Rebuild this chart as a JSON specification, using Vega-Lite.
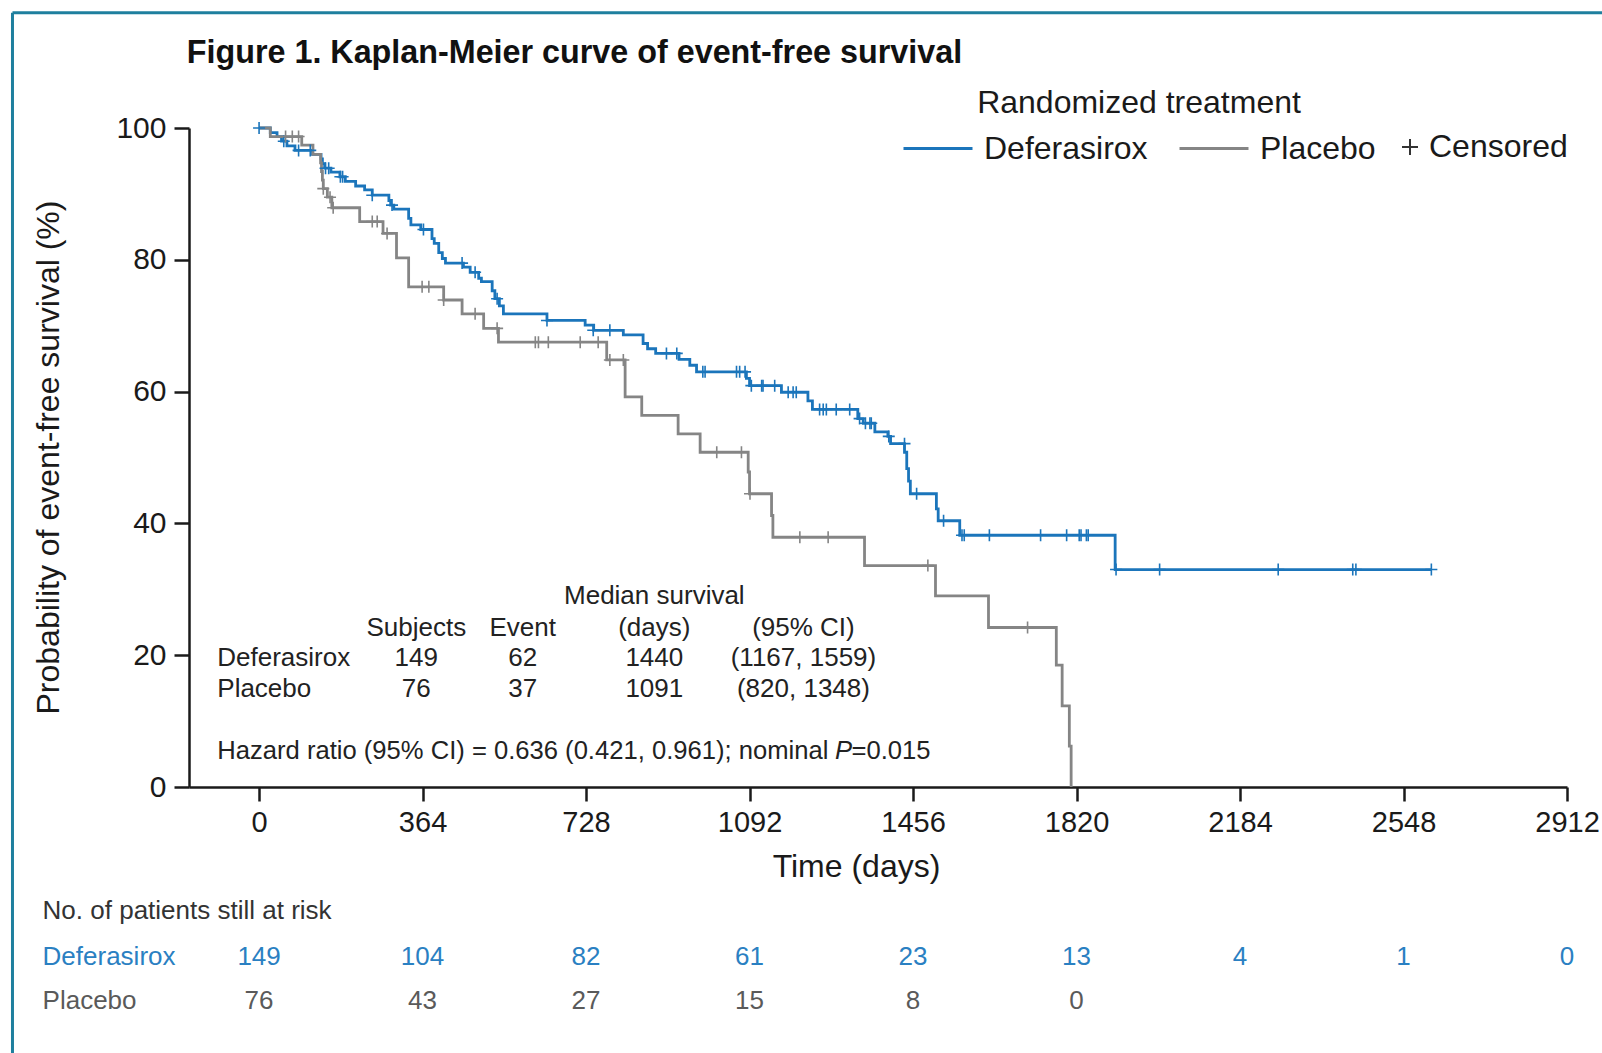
{
  "$schema": "https://vega.github.io/schema/vega-lite/v6.json",
  "width": 1378,
  "height": 659,
  "autosize": {"type": "none"},
  "padding": {"left": 189, "top": 128, "right": 35, "bottom": 266},
  "background": "white",
  "config": {
    "font": "Liberation Sans",
    "view": {"stroke": null},
    "text": {"font": "Liberation Sans"}
  },
  "datasets": {
    "km": [
      {"arm": "Deferasirox", "day": 0, "surv": 100},
      {"arm": "Deferasirox", "day": 25, "surv": 99.3},
      {"arm": "Deferasirox", "day": 40, "surv": 98.7},
      {"arm": "Deferasirox", "day": 50, "surv": 98.0},
      {"arm": "Deferasirox", "day": 62, "surv": 97.3},
      {"arm": "Deferasirox", "day": 80, "surv": 96.6},
      {"arm": "Deferasirox", "day": 119, "surv": 96.0},
      {"arm": "Deferasirox", "day": 138, "surv": 95.3},
      {"arm": "Deferasirox", "day": 141, "surv": 94.6},
      {"arm": "Deferasirox", "day": 146, "surv": 93.9},
      {"arm": "Deferasirox", "day": 160, "surv": 93.3},
      {"arm": "Deferasirox", "day": 180, "surv": 92.6},
      {"arm": "Deferasirox", "day": 192, "surv": 91.9},
      {"arm": "Deferasirox", "day": 215, "surv": 91.2},
      {"arm": "Deferasirox", "day": 235, "surv": 90.6},
      {"arm": "Deferasirox", "day": 252, "surv": 89.8},
      {"arm": "Deferasirox", "day": 289, "surv": 89.0},
      {"arm": "Deferasirox", "day": 293, "surv": 88.3},
      {"arm": "Deferasirox", "day": 300, "surv": 87.7},
      {"arm": "Deferasirox", "day": 333, "surv": 86.3},
      {"arm": "Deferasirox", "day": 338, "surv": 85.3},
      {"arm": "Deferasirox", "day": 360, "surv": 84.6},
      {"arm": "Deferasirox", "day": 385, "surv": 83.2},
      {"arm": "Deferasirox", "day": 390, "surv": 82.5},
      {"arm": "Deferasirox", "day": 400, "surv": 81.1},
      {"arm": "Deferasirox", "day": 408, "surv": 80.2},
      {"arm": "Deferasirox", "day": 415, "surv": 79.5},
      {"arm": "Deferasirox", "day": 455, "surv": 78.9},
      {"arm": "Deferasirox", "day": 470, "surv": 78.1},
      {"arm": "Deferasirox", "day": 489, "surv": 77.2},
      {"arm": "Deferasirox", "day": 495, "surv": 76.7},
      {"arm": "Deferasirox", "day": 519, "surv": 75.3},
      {"arm": "Deferasirox", "day": 525, "surv": 74.1},
      {"arm": "Deferasirox", "day": 535, "surv": 73.0},
      {"arm": "Deferasirox", "day": 544, "surv": 71.8},
      {"arm": "Deferasirox", "day": 641, "surv": 70.8},
      {"arm": "Deferasirox", "day": 726, "surv": 70.1},
      {"arm": "Deferasirox", "day": 745, "surv": 69.3},
      {"arm": "Deferasirox", "day": 811, "surv": 68.6},
      {"arm": "Deferasirox", "day": 855, "surv": 67.3},
      {"arm": "Deferasirox", "day": 865, "surv": 66.5},
      {"arm": "Deferasirox", "day": 883, "surv": 65.8},
      {"arm": "Deferasirox", "day": 935, "surv": 64.9},
      {"arm": "Deferasirox", "day": 959, "surv": 64.0},
      {"arm": "Deferasirox", "day": 974, "surv": 63.0},
      {"arm": "Deferasirox", "day": 1085, "surv": 62.0},
      {"arm": "Deferasirox", "day": 1092, "surv": 60.9},
      {"arm": "Deferasirox", "day": 1163, "surv": 59.9},
      {"arm": "Deferasirox", "day": 1222, "surv": 58.6},
      {"arm": "Deferasirox", "day": 1232, "surv": 57.3},
      {"arm": "Deferasirox", "day": 1333, "surv": 55.9},
      {"arm": "Deferasirox", "day": 1345, "surv": 55.2},
      {"arm": "Deferasirox", "day": 1371, "surv": 53.9},
      {"arm": "Deferasirox", "day": 1400, "surv": 53.2},
      {"arm": "Deferasirox", "day": 1406, "surv": 52.1},
      {"arm": "Deferasirox", "day": 1437, "surv": 50.8},
      {"arm": "Deferasirox", "day": 1442, "surv": 48.3},
      {"arm": "Deferasirox", "day": 1446, "surv": 46.4},
      {"arm": "Deferasirox", "day": 1450, "surv": 44.5},
      {"arm": "Deferasirox", "day": 1508, "surv": 42.2},
      {"arm": "Deferasirox", "day": 1512, "surv": 40.4},
      {"arm": "Deferasirox", "day": 1560, "surv": 38.2},
      {"arm": "Deferasirox", "day": 1906, "surv": 33.0},
      {"arm": "Deferasirox", "day": 2610, "surv": 33.0},
      {"arm": "Placebo", "day": 0, "surv": 100},
      {"arm": "Placebo", "day": 25, "surv": 98.7},
      {"arm": "Placebo", "day": 95, "surv": 97.4},
      {"arm": "Placebo", "day": 120, "surv": 96.0},
      {"arm": "Placebo", "day": 137, "surv": 94.7},
      {"arm": "Placebo", "day": 139, "surv": 93.4},
      {"arm": "Placebo", "day": 141, "surv": 92.1},
      {"arm": "Placebo", "day": 143, "surv": 90.8},
      {"arm": "Placebo", "day": 152, "surv": 89.5},
      {"arm": "Placebo", "day": 162, "surv": 87.9},
      {"arm": "Placebo", "day": 224, "surv": 85.8},
      {"arm": "Placebo", "day": 276, "surv": 84.0},
      {"arm": "Placebo", "day": 306, "surv": 80.3},
      {"arm": "Placebo", "day": 333, "surv": 75.9},
      {"arm": "Placebo", "day": 411, "surv": 73.9},
      {"arm": "Placebo", "day": 452, "surv": 71.8},
      {"arm": "Placebo", "day": 500, "surv": 69.6},
      {"arm": "Placebo", "day": 533, "surv": 67.5},
      {"arm": "Placebo", "day": 774, "surv": 64.8},
      {"arm": "Placebo", "day": 815, "surv": 59.2},
      {"arm": "Placebo", "day": 852, "surv": 56.4},
      {"arm": "Placebo", "day": 933, "surv": 53.6},
      {"arm": "Placebo", "day": 982, "surv": 50.8},
      {"arm": "Placebo", "day": 1089, "surv": 47.8},
      {"arm": "Placebo", "day": 1092, "surv": 44.5},
      {"arm": "Placebo", "day": 1141, "surv": 41.2},
      {"arm": "Placebo", "day": 1144, "surv": 37.9},
      {"arm": "Placebo", "day": 1348, "surv": 33.6},
      {"arm": "Placebo", "day": 1506, "surv": 29.0},
      {"arm": "Placebo", "day": 1624, "surv": 24.2},
      {"arm": "Placebo", "day": 1775, "surv": 18.5},
      {"arm": "Placebo", "day": 1788, "surv": 12.3},
      {"arm": "Placebo", "day": 1804, "surv": 6.2},
      {"arm": "Placebo", "day": 1808, "surv": 0}
    ],
    "censor": [
      {"arm": "Deferasirox", "day": 0, "surv": 100},
      {"arm": "Deferasirox", "day": 55, "surv": 98.0},
      {"arm": "Deferasirox", "day": 88, "surv": 96.6},
      {"arm": "Deferasirox", "day": 114, "surv": 96.6},
      {"arm": "Deferasirox", "day": 148, "surv": 93.9},
      {"arm": "Deferasirox", "day": 155, "surv": 93.9},
      {"arm": "Deferasirox", "day": 181, "surv": 92.6},
      {"arm": "Deferasirox", "day": 186, "surv": 92.6},
      {"arm": "Deferasirox", "day": 252, "surv": 89.8},
      {"arm": "Deferasirox", "day": 296, "surv": 88.3},
      {"arm": "Deferasirox", "day": 366, "surv": 84.6},
      {"arm": "Deferasirox", "day": 452, "surv": 79.5},
      {"arm": "Deferasirox", "day": 481, "surv": 78.1},
      {"arm": "Deferasirox", "day": 530, "surv": 74.1},
      {"arm": "Deferasirox", "day": 641, "surv": 70.8},
      {"arm": "Deferasirox", "day": 744, "surv": 69.3},
      {"arm": "Deferasirox", "day": 781, "surv": 69.3},
      {"arm": "Deferasirox", "day": 907, "surv": 65.8},
      {"arm": "Deferasirox", "day": 930, "surv": 65.8},
      {"arm": "Deferasirox", "day": 988, "surv": 63.0},
      {"arm": "Deferasirox", "day": 993, "surv": 63.0},
      {"arm": "Deferasirox", "day": 1063, "surv": 63.0},
      {"arm": "Deferasirox", "day": 1070, "surv": 63.0},
      {"arm": "Deferasirox", "day": 1082, "surv": 63.0},
      {"arm": "Deferasirox", "day": 1096, "surv": 60.9},
      {"arm": "Deferasirox", "day": 1119, "surv": 60.9},
      {"arm": "Deferasirox", "day": 1122, "surv": 60.9},
      {"arm": "Deferasirox", "day": 1148, "surv": 60.9},
      {"arm": "Deferasirox", "day": 1178, "surv": 59.9},
      {"arm": "Deferasirox", "day": 1189, "surv": 59.9},
      {"arm": "Deferasirox", "day": 1196, "surv": 59.9},
      {"arm": "Deferasirox", "day": 1248, "surv": 57.3},
      {"arm": "Deferasirox", "day": 1256, "surv": 57.3},
      {"arm": "Deferasirox", "day": 1263, "surv": 57.3},
      {"arm": "Deferasirox", "day": 1285, "surv": 57.3},
      {"arm": "Deferasirox", "day": 1315, "surv": 57.3},
      {"arm": "Deferasirox", "day": 1337, "surv": 55.9},
      {"arm": "Deferasirox", "day": 1350, "surv": 55.2},
      {"arm": "Deferasirox", "day": 1360, "surv": 55.2},
      {"arm": "Deferasirox", "day": 1363, "surv": 55.2},
      {"arm": "Deferasirox", "day": 1402, "surv": 53.2},
      {"arm": "Deferasirox", "day": 1437, "surv": 52.1},
      {"arm": "Deferasirox", "day": 1464, "surv": 44.5},
      {"arm": "Deferasirox", "day": 1524, "surv": 40.4},
      {"arm": "Deferasirox", "day": 1565, "surv": 38.2},
      {"arm": "Deferasirox", "day": 1570, "surv": 38.2},
      {"arm": "Deferasirox", "day": 1626, "surv": 38.2},
      {"arm": "Deferasirox", "day": 1740, "surv": 38.2},
      {"arm": "Deferasirox", "day": 1798, "surv": 38.2},
      {"arm": "Deferasirox", "day": 1826, "surv": 38.2},
      {"arm": "Deferasirox", "day": 1830, "surv": 38.2},
      {"arm": "Deferasirox", "day": 1842, "surv": 38.2},
      {"arm": "Deferasirox", "day": 1846, "surv": 38.2},
      {"arm": "Deferasirox", "day": 1908, "surv": 33.0},
      {"arm": "Deferasirox", "day": 2005, "surv": 33.0},
      {"arm": "Deferasirox", "day": 2269, "surv": 33.0},
      {"arm": "Deferasirox", "day": 2435, "surv": 33.0},
      {"arm": "Deferasirox", "day": 2442, "surv": 33.0},
      {"arm": "Deferasirox", "day": 2610, "surv": 33.0},
      {"arm": "Placebo", "day": 59, "surv": 98.7},
      {"arm": "Placebo", "day": 74, "surv": 98.7},
      {"arm": "Placebo", "day": 88, "surv": 98.7},
      {"arm": "Placebo", "day": 143, "surv": 90.8},
      {"arm": "Placebo", "day": 158, "surv": 89.5},
      {"arm": "Placebo", "day": 165, "surv": 87.9},
      {"arm": "Placebo", "day": 252, "surv": 85.8},
      {"arm": "Placebo", "day": 263, "surv": 85.8},
      {"arm": "Placebo", "day": 285, "surv": 84.0},
      {"arm": "Placebo", "day": 363, "surv": 75.9},
      {"arm": "Placebo", "day": 378, "surv": 75.9},
      {"arm": "Placebo", "day": 411, "surv": 73.9},
      {"arm": "Placebo", "day": 481, "surv": 71.8},
      {"arm": "Placebo", "day": 530, "surv": 69.6},
      {"arm": "Placebo", "day": 615, "surv": 67.5},
      {"arm": "Placebo", "day": 622, "surv": 67.5},
      {"arm": "Placebo", "day": 644, "surv": 67.5},
      {"arm": "Placebo", "day": 715, "surv": 67.5},
      {"arm": "Placebo", "day": 755, "surv": 67.5},
      {"arm": "Placebo", "day": 781, "surv": 64.8},
      {"arm": "Placebo", "day": 811, "surv": 64.8},
      {"arm": "Placebo", "day": 1019, "surv": 50.8},
      {"arm": "Placebo", "day": 1074, "surv": 50.8},
      {"arm": "Placebo", "day": 1093, "surv": 44.5},
      {"arm": "Placebo", "day": 1204, "surv": 37.9},
      {"arm": "Placebo", "day": 1267, "surv": 37.9},
      {"arm": "Placebo", "day": 1489, "surv": 33.6},
      {"arm": "Placebo", "day": 1711, "surv": 24.2}
    ],
    "summary": [
      {"arm": "Deferasirox", "subjects": 149, "events": 62, "median": 1440, "ci": "(1167, 1559)"},
      {"arm": "Placebo", "subjects": 76, "events": 37, "median": 1091, "ci": "(820, 1348)"}
    ],
    "risk": [
      {"arm": "Deferasirox", "day": 0, "n": 149},
      {"arm": "Deferasirox", "day": 364, "n": 104},
      {"arm": "Deferasirox", "day": 728, "n": 82},
      {"arm": "Deferasirox", "day": 1092, "n": 61},
      {"arm": "Deferasirox", "day": 1456, "n": 23},
      {"arm": "Deferasirox", "day": 1820, "n": 13},
      {"arm": "Deferasirox", "day": 2184, "n": 4},
      {"arm": "Deferasirox", "day": 2548, "n": 1},
      {"arm": "Deferasirox", "day": 2912, "n": 0},
      {"arm": "Placebo", "day": 0, "n": 76},
      {"arm": "Placebo", "day": 364, "n": 43},
      {"arm": "Placebo", "day": 728, "n": 27},
      {"arm": "Placebo", "day": 1092, "n": 15},
      {"arm": "Placebo", "day": 1456, "n": 8},
      {"arm": "Placebo", "day": 1820, "n": 0}
    ]
  },
  "layer": [
    {
      "data": {"values": [{}]},
      "mark": {"type": "rule", "color": "#1e7f9e", "strokeWidth": 3},
      "encoding": {
        "x": {"datum": -549, "type": "quantitative"},
        "y": {"datum": 117.5, "type": "quantitative"},
        "y2": {"datum": -41}
      }
    },
    {
      "data": {"values": [{}]},
      "mark": {"type": "rule", "color": "#1e7f9e", "strokeWidth": 3},
      "encoding": {
        "x": {"datum": -549, "type": "quantitative"},
        "x2": {"datum": 2995},
        "y": {"datum": 117.5, "type": "quantitative"}
      }
    },
    {
      "data": {"name": "km"},
      "mark": {"type": "line", "interpolate": "step-after", "strokeWidth": 2.8},
      "encoding": {
        "x": {
          "field": "day", "type": "quantitative",
          "scale": {"domain": [-156, 2912], "nice": false, "zero": false},
          "axis": {
            "values": [0, 364, 728, 1092, 1456, 1820, 2184, 2548, 2912],
            "format": "d",
            "grid": false,
            "labelFontSize": 29, "labelColor": "#1a1a1a", "labelFlush": false, "labelOverlap": false,
            "labelPadding": 7,
            "tickSize": 14, "tickWidth": 2.5, "tickColor": "#1a1a1a",
            "domainWidth": 2.5, "domainColor": "#1a1a1a",
            "title": "Time (days)", "titleFontSize": 32, "titleFontWeight": "normal", "titleColor": "#1a1a1a",
            "titleX": 667, "titleY": 79, "titleAlign": "center", "titleBaseline": "middle"
          }
        },
        "y": {
          "field": "surv", "type": "quantitative",
          "scale": {"domain": [0, 100], "nice": false},
          "axis": {
            "values": [0, 20, 40, 60, 80, 100],
            "grid": false,
            "labelFontSize": 30, "labelColor": "#1a1a1a", "labelFlush": false, "labelOverlap": false,
            "labelPadding": 8,
            "tickSize": 15, "tickWidth": 2.5, "tickColor": "#1a1a1a",
            "domainWidth": 2.5, "domainColor": "#1a1a1a",
            "title": "Probability of event-free survival (%)", "titleFontSize": 32, "titleFontWeight": "normal", "titleColor": "#1a1a1a",
            "titleX": -141, "titleY": 329, "titleAlign": "center", "titleBaseline": "middle"
          }
        },
        "color": {
          "field": "arm", "type": "nominal",
          "scale": {"domain": ["Deferasirox", "Placebo"], "range": ["#1b75bb", "#858585"]},
          "legend": {
            "orient": "none", "legendX": 713, "legendY": -40,
            "direction": "horizontal",
            "title": "Randomized treatment", "titleFontSize": 32, "titleFontWeight": "normal", "titleColor": "#1a1a1a",
            "titleAnchor": "middle", "titlePadding": -7.5, "titleLimit": 0,
            "symbolType": "stroke", "symbolSize": 4761, "symbolStrokeWidth": 3,
            "labelFontSize": 32, "labelColor": "#1a1a1a", "labelOffset": 10, "labelLimit": 0,
            "columnPadding": 25, "padding": 0
          }
        }
      }
    },
    {
      "data": {"name": "censor"},
      "mark": {"type": "point", "filled": false, "size": 144, "strokeWidth": 1.6, "opacity": 1},
      "encoding": {
        "x": {"field": "day", "type": "quantitative"},
        "y": {"field": "surv", "type": "quantitative"},
        "color": {"field": "arm", "type": "nominal"},
        "shape": {
          "datum": "Censored",
          "scale": {"domain": ["Censored"], "range": ["M-1,0H1M0,-1V1"]},
          "legend": {
            "orient": "none", "legendX": 1205, "legendY": 3,
            "title": null, "padding": 0,
            "symbolSize": 256, "symbolStrokeColor": "#333333", "symbolFillColor": "transparent", "symbolStrokeWidth": 2,
            "labelFontSize": 32, "labelColor": "#1a1a1a", "labelOffset": 3, "labelLimit": 0
          }
        }
      }
    },
    {
      "data": {"values": [{}]},
      "mark": {"type": "text", "align": "left", "baseline": "middle", "fontSize": 32.3, "fontWeight": "bold", "color": "#111111", "text": "Figure 1. Kaplan-Meier curve of event-free survival"},
      "encoding": {"x": {"datum": -161}, "y": {"datum": 111.4}}
    },
    {
      "data": {"values": [{}]},
      "mark": {"type": "text", "align": "center", "baseline": "middle", "fontSize": 26, "color": "#222222", "text": "Median survival"},
      "encoding": {"x": {"datum": 880}, "y": {"datum": 29.0}}
    },
    {
      "data": {"values": [{}]},
      "encoding": {"y": {"datum": 24.2}},
      "layer": [
        {"mark": {"type": "text", "align": "center", "baseline": "middle", "fontSize": 26, "color": "#222222", "text": "Subjects"}, "encoding": {"x": {"datum": 350}}},
        {"mark": {"type": "text", "align": "center", "baseline": "middle", "fontSize": 26, "color": "#222222", "text": "Event"}, "encoding": {"x": {"datum": 587}}},
        {"mark": {"type": "text", "align": "center", "baseline": "middle", "fontSize": 26, "color": "#222222", "text": "(days)"}, "encoding": {"x": {"datum": 880}}},
        {"mark": {"type": "text", "align": "center", "baseline": "middle", "fontSize": 26, "color": "#222222", "text": "(95% CI)"}, "encoding": {"x": {"datum": 1212}}}
      ]
    },
    {
      "data": {"name": "summary"},
      "transform": [{"filter": "datum.arm === 'Deferasirox'"}],
      "encoding": {"y": {"datum": 19.6}},
      "layer": [
        {"mark": {"type": "text", "align": "left", "baseline": "middle", "fontSize": 26, "color": "#222222"}, "encoding": {"x": {"datum": -93}, "text": {"field": "arm"}}},
        {"mark": {"type": "text", "align": "center", "baseline": "middle", "fontSize": 26, "color": "#222222"}, "encoding": {"x": {"datum": 350}, "text": {"field": "subjects"}}},
        {"mark": {"type": "text", "align": "center", "baseline": "middle", "fontSize": 26, "color": "#222222"}, "encoding": {"x": {"datum": 587}, "text": {"field": "events"}}},
        {"mark": {"type": "text", "align": "center", "baseline": "middle", "fontSize": 26, "color": "#222222"}, "encoding": {"x": {"datum": 880}, "text": {"field": "median"}}},
        {"mark": {"type": "text", "align": "center", "baseline": "middle", "fontSize": 26, "color": "#222222"}, "encoding": {"x": {"datum": 1212}, "text": {"field": "ci"}}}
      ]
    },
    {
      "data": {"name": "summary"},
      "transform": [{"filter": "datum.arm === 'Placebo'"}],
      "encoding": {"y": {"datum": 14.8}},
      "layer": [
        {"mark": {"type": "text", "align": "left", "baseline": "middle", "fontSize": 26, "color": "#222222"}, "encoding": {"x": {"datum": -93}, "text": {"field": "arm"}}},
        {"mark": {"type": "text", "align": "center", "baseline": "middle", "fontSize": 26, "color": "#222222"}, "encoding": {"x": {"datum": 350}, "text": {"field": "subjects"}}},
        {"mark": {"type": "text", "align": "center", "baseline": "middle", "fontSize": 26, "color": "#222222"}, "encoding": {"x": {"datum": 587}, "text": {"field": "events"}}},
        {"mark": {"type": "text", "align": "center", "baseline": "middle", "fontSize": 26, "color": "#222222"}, "encoding": {"x": {"datum": 880}, "text": {"field": "median"}}},
        {"mark": {"type": "text", "align": "center", "baseline": "middle", "fontSize": 26, "color": "#222222"}, "encoding": {"x": {"datum": 1212}, "text": {"field": "ci"}}}
      ]
    },
    {
      "data": {"values": [{}]},
      "encoding": {"y": {"datum": 5.5}},
      "layer": [
        {"mark": {"type": "text", "align": "left", "baseline": "middle", "fontSize": 25.6, "color": "#222222", "text": "Hazard ratio (95% CI) = 0.636 (0.421, 0.961); nominal"}, "encoding": {"x": {"datum": -93}}},
        {"mark": {"type": "text", "align": "left", "baseline": "middle", "fontSize": 25.6, "fontStyle": "italic", "color": "#222222", "text": "P"}, "encoding": {"x": {"datum": 1282}}},
        {"mark": {"type": "text", "align": "left", "baseline": "middle", "fontSize": 25.6, "color": "#222222", "text": "=0.015"}, "encoding": {"x": {"datum": 1319}}}
      ]
    },
    {
      "data": {"values": [{}]},
      "layer": [
        {"mark": {"type": "text", "align": "left", "baseline": "middle", "fontSize": 26, "color": "#333333", "text": "No. of patients still at risk"}, "encoding": {"x": {"datum": -482}, "y": {"datum": -18.8}}},
        {"mark": {"type": "text", "align": "left", "baseline": "middle", "fontSize": 26, "color": "#2a80c2", "text": "Deferasirox"}, "encoding": {"x": {"datum": -482}, "y": {"datum": -25.8}}},
        {"mark": {"type": "text", "align": "left", "baseline": "middle", "fontSize": 26, "color": "#5a5a5a", "text": "Placebo"}, "encoding": {"x": {"datum": -482}, "y": {"datum": -32.5}}}
      ]
    },
    {
      "data": {"name": "risk"},
      "transform": [{"filter": "datum.arm === 'Deferasirox'"}],
      "mark": {"type": "text", "align": "center", "baseline": "middle", "fontSize": 26, "color": "#2a80c2"},
      "encoding": {"x": {"field": "day", "type": "quantitative"}, "y": {"datum": -25.8}, "text": {"field": "n"}}
    },
    {
      "data": {"name": "risk"},
      "transform": [{"filter": "datum.arm === 'Placebo'"}],
      "mark": {"type": "text", "align": "center", "baseline": "middle", "fontSize": 26, "color": "#5a5a5a"},
      "encoding": {"x": {"field": "day", "type": "quantitative"}, "y": {"datum": -32.5}, "text": {"field": "n"}}
    }
  ]
}
